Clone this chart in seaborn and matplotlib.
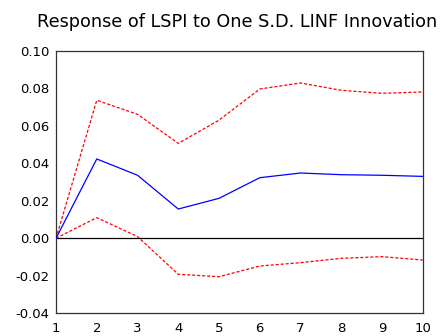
import matplotlib
matplotlib.use("Agg")
import matplotlib.pyplot as plt
import seaborn as sns
import pandas as pd

periods = [1, 2, 3, 4, 5, 6, 7, 8, 9, 10]
response = [0.0, 0.0423, 0.0336, 0.0156, 0.0213, 0.0323, 0.0348, 0.0339, 0.0336, 0.0330]
upper = [0.0, 0.0736, 0.0661, 0.0506, 0.0630, 0.0796, 0.0828, 0.0789, 0.0773, 0.0780]
lower = [0.0, 0.0110, 0.0009, -0.0192, -0.0205, -0.0148, -0.0130, -0.0107, -0.0098, -0.0116]
yticks = [-0.04, -0.02, 0.00, 0.02, 0.04, 0.06, 0.08, 0.10]

sns.set_style("white")
plt.rcParams['font.family'] = ['DejaVu Sans']

df = pd.DataFrame({"period": periods, "response": response, "upper": upper, "lower": lower})

fig = plt.figure(figsize=(4.46, 3.36), dpi=100)
ax = fig.add_axes([0.1256, 0.0676, 0.8224, 0.7814])

ax.axhline(0, color="black", lw=0.9, zorder=1)
sns.lineplot(data=df, x="period", y="response", ax=ax, color="#0000ff", lw=0.9, zorder=3)
sns.lineplot(data=df, x="period", y="upper", ax=ax, color="#ff0000", lw=0.9, zorder=2)
sns.lineplot(data=df, x="period", y="lower", ax=ax, color="#ff0000", lw=0.9, zorder=2)
for ln in ax.lines[2:]:
    ln.set_dashes([2.5, 1.5])

ax.set_xlim(1, 10)
ax.set_ylim(-0.04, 0.10)
ax.set_xticks(periods)
ax.set_yticks(yticks)
ax.set_yticklabels([f"{v:.2f}" for v in yticks])
ax.set_xlabel("")
ax.set_ylabel("")
for s in ax.spines.values():
    s.set_color("#333333")
    s.set_linewidth(0.9)
ax.tick_params(axis="both", direction="out", length=3.5, width=0.8, labelsize=9.5, pad=1.5, colors="black")
ax.tick_params(axis="x", pad=3)
ax.set_title("Response of LSPI to One S.D. LINF Innovation", fontsize=12.7, pad=17, x=0.493, color="black")

fig.savefig("out.png", dpi=100)
